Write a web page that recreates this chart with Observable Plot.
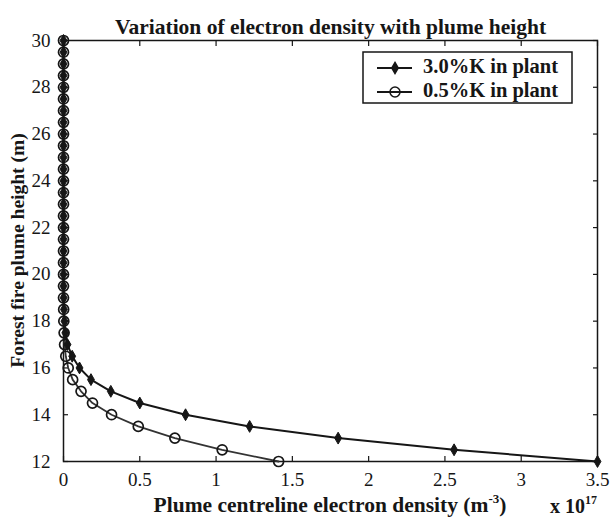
<!DOCTYPE html>
<html>
<head>
<meta charset="utf-8">
<script src="https://cdn.jsdelivr.net/npm/d3@7"></script>
<script src="https://cdn.jsdelivr.net/npm/@observablehq/plot@0.6"></script>
<style>
  html, body { margin: 0; padding: 0; background: #fff; }
  #chart { position: relative; width: 611px; height: 520px; }
</style>
</head>
<body>
<div id="chart"></div>
<script>
// Plume height (m)
const heights = [12, 12.5, 13, 13.5, 14, 14.5, 15, 15.5, 16, 16.5, 17, 17.5, 18, 18.5, 19, 19.5,
  20, 20.5, 21, 21.5, 22, 22.5, 23, 23.5, 24, 24.5, 25, 25.5, 26, 26.5, 27, 27.5, 28, 28.5, 29, 29.5, 30];
// Electron density (x 10^17 m^-3), 3.0% K in plant
const k30 = [3.5, 2.56, 1.8, 1.22, 0.8, 0.5, 0.31, 0.18, 0.105, 0.057, 0.026, 0.012, 0.006, 0.003, 0.001, 0,
  0, 0, 0, 0, 0, 0, 0, 0, 0, 0, 0, 0, 0, 0, 0, 0, 0, 0, 0, 0, 0];
// Electron density (x 10^17 m^-3), 0.5% K in plant
const k05 = [1.41, 1.04, 0.73, 0.49, 0.315, 0.19, 0.115, 0.06, 0.031, 0.015, 0.007, 0.004, 0.002, 0.001, 0, 0,
  0, 0, 0, 0, 0, 0, 0, 0, 0, 0, 0, 0, 0, 0, 0, 0, 0, 0, 0, 0, 0];
const seriesNames = ["3.0%K in plant", "0.5%K in plant"];
const xTicks = [0, 0.5, 1, 1.5, 2, 2.5, 3, 3.5];
const xTickLabels = ["0", "0.5", "1", "1.5", "2", "2.5", "3", "3.5"];
const yTicks = [12, 14, 16, 18, 20, 22, 24, 26, 28, 30];
const titleText = "Variation of electron density with plume height";
const xLabel = ["Plume centreline electron density (m", "-3", ")"];
const yLabel = "Forest fire plume height (m)";
const exponent = ["x 10", "17"];

const s30 = heights.map((h, i) => ({h, v: k30[i]}));
const s05 = heights.map((h, i) => ({h, v: k05[i]}));

const ink = "#161616";
const serif = "'Liberation Serif', 'Times New Roman', serif";

const chart = Plot.plot({
  width: 611,
  height: 520,
  marginLeft: 63,
  marginRight: 14,
  marginTop: 40,
  marginBottom: 59,
  style: {fontFamily: serif, fontSize: "19px", color: ink, background: "#fff", overflow: "visible"},
  x: {domain: [0, 3.5], label: null},
  y: {domain: [12, 30], label: null},
  marks: [
    // inward ticks on all sides
    Plot.axisX({ticks: xTicks, anchor: "bottom", tickSize: -5, tickFormat: () => "", label: null, stroke: ink, strokeWidth: 1.2}),
    Plot.axisX({ticks: xTicks, anchor: "top", tickSize: -5, tickFormat: () => "", label: null, stroke: ink, strokeWidth: 1.2}),
    Plot.axisY({ticks: yTicks, anchor: "left", tickSize: -5, tickFormat: () => "", label: null, stroke: ink, strokeWidth: 1.2}),
    Plot.axisY({ticks: yTicks, anchor: "right", tickSize: -5, tickFormat: () => "", label: null, stroke: ink, strokeWidth: 1.2}),
    // tick labels
    Plot.axisX({ticks: xTicks, anchor: "bottom", tickSize: 0, tickPadding: 11, tickFormat: (d) => xTickLabels[xTicks.indexOf(d)], label: null, fill: ink, fontSize: 19}),
    Plot.axisY({ticks: yTicks, anchor: "left", tickSize: 0, tickPadding: 13, label: null, fill: ink, fontSize: 19}),
    Plot.frame({stroke: ink, strokeWidth: 1.5}),
    Plot.line(s30, {x: "v", y: "h", stroke: ink, strokeWidth: 2}),
    Plot.line(s05, {x: "v", y: "h", stroke: "#333", strokeWidth: 1.8}),
    Plot.dot(s05, {x: "v", y: "h", symbol: "circle", r: 5, stroke: ink, strokeWidth: 1.7, fill: "none"}),
    Plot.dot(s30, {x: "v", y: "h", symbol: "diamond", r: 3.6, fill: ink, stroke: ink, strokeWidth: 1}),
    Plot.text([titleText], {frameAnchor: "top", dy: -22, fontWeight: "bold", fontSize: 21.5, fill: ink})
  ]
});

document.getElementById("chart").appendChild(chart);

const svg = d3.select(chart);
const xs = chart.scale("x"), ys = chart.scale("y");
const [x0, x1] = xs.range;
const [yb, yt] = ys.range;
const cx = (x0 + x1) / 2;

// x axis label with superscript
const xl = svg.append("text")
  .attr("x", cx).attr("y", yb + 51)
  .attr("text-anchor", "middle")
  .attr("font-family", serif).attr("font-weight", "bold").attr("font-size", 21.5).attr("fill", ink);
xl.append("tspan").text(xLabel[0]);
xl.append("tspan").attr("dy", -9).attr("font-size", 13).text(xLabel[1]);
xl.append("tspan").attr("dy", 9).text(xLabel[2]);

// exponent
const ex = svg.append("text")
  .attr("x", x1 - 47).attr("y", yb + 52)
  .attr("text-anchor", "start")
  .attr("font-family", serif).attr("font-weight", "bold").attr("font-size", 20).attr("fill", ink);
ex.append("tspan").text(exponent[0]);
ex.append("tspan").attr("dy", -9).attr("font-size", 12).text(exponent[1]);

// y axis label
svg.append("text")
  .attr("transform", `translate(20,${(yb + yt) / 2}) rotate(-90)`)
  .attr("text-anchor", "middle").attr("dominant-baseline", "middle")
  .attr("font-family", serif).attr("font-weight", "bold").attr("font-size", 19.5).attr("fill", ink)
  .text(yLabel);

// legend
const lg = svg.append("g").attr("transform", `translate(${x1 - 234},${yt + 12})`);
lg.append("rect").attr("width", 209).attr("height", 51).attr("fill", "#fff").attr("stroke", ink).attr("stroke-width", 1.5);
const rows = [
  {name: seriesNames[0], sym: d3.symbolDiamond, size: 36, fill: ink},
  {name: seriesNames[1], sym: d3.symbolCircle, size: 78, fill: "none"}
];
rows.forEach((r, i) => {
  const yy = 16 + i * 24;
  lg.append("line").attr("x1", 14).attr("x2", 49).attr("y1", yy).attr("y2", yy).attr("stroke", ink).attr("stroke-width", 2);
  lg.append("path").attr("d", d3.symbol(r.sym, r.size)()).attr("transform", `translate(32,${yy})`)
    .attr("fill", r.fill).attr("stroke", ink).attr("stroke-width", 1.5);
  lg.append("text").attr("x", 60).attr("y", yy).attr("text-anchor", "start").attr("dominant-baseline", "middle")
    .attr("font-family", serif).attr("font-weight", "bold").attr("font-size", 20.5).attr("fill", ink)
    .text(r.name);
});
</script>
</body>
</html>
